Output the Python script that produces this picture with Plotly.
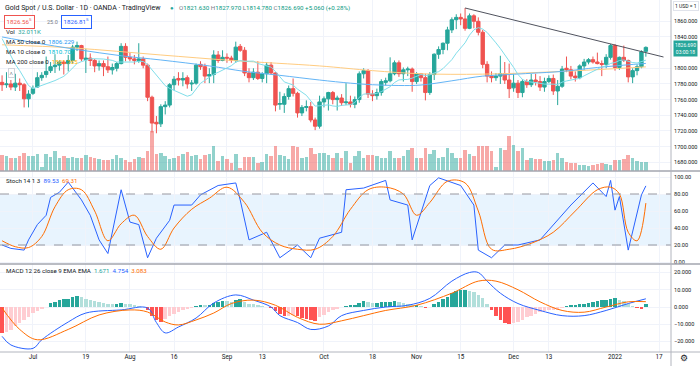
import plotly.graph_objects as go

# ---------------- data (bar index 0 = 1 Jul 2021, daily bars, weekends skipped) ----------------
bar_idx = list(range(-7, 140))

opens = [1782,1779,1780,1776,1781,1779,1761,1768,1776,1788,1792,1797,1802,1804,1808,1806,1810,1827,1829,1811,
         1813,1810,1803,1806,1802,1798,1800,1806,1828,1814,1812,1810,1812,1804,1763,1731,1729,1751,1753,1779,
         1787,1785,1788,1780,1781,1805,1802,1790,1792,1817,1810,1814,1813,1810,1828,1823,1794,1788,1795,1787,
         1793,1804,1794,1754,1754,1764,1774,1768,1743,1750,1751,1734,1726,1757,1761,1769,1760,1762,1756,1757,
         1754,1760,1793,1797,1767,1765,1769,1782,1784,1793,1807,1793,1798,1799,1783,1793,1788,1769,1792,1818,
         1824,1832,1849,1862,1865,1863,1851,1867,1860,1846,1805,1790,1788,1790,1793,1785,1775,1781,1769,1783,
         1779,1785,1783,1776,1783,1787,1771,1777,1800,1798,1790,1788,1803,1808,1811,1808,1806,1805,1814,1829,
         1801,1814,1810,1789,1797,1802,1821.63]
highs = [1791,1795,1785,1793,1787,1781,1772,1778,1795,1795,1815,1808,1818,1810,1810,1817,1830,1834,1830,1825,
         1819,1812,1810,1810,1815,1806,1808,1832,1832,1820,1817,1832,1815,1806,1765,1739,1754,1758,1781,1790,
         1795,1795,1791,1785,1806,1809,1806,1800,1823,1822,1823,1819,1816,1834,1831,1827,1800,1800,1809,1795,
         1808,1808,1795,1770,1768,1778,1787,1770,1753,1759,1757,1737,1765,1764,1770,1771,1765,1767,1781,1765,
         1764,1796,1800,1799,1772,1774,1786,1788,1814,1810,1810,1801,1802,1801,1795,1794,1793,1795,1819,1828,
         1833,1853,1865,1869,1870,1877,1870,1869,1865,1849,1809,1796,1794,1816,1808,1806,1793,1785,1786,1786,
         1793,1793,1790,1788,1791,1792,1785,1803,1815,1803,1796,1805,1812,1813,1815,1820,1810,1818,1831,1831,
         1815,1829,1811,1800,1805,1823,1827.97]
lows = [1771,1775,1772,1771,1771,1750,1750,1766,1775,1784,1788,1794,1794,1797,1792,1796,1806,1822,1809,1794,
        1803,1795,1797,1790,1794,1792,1796,1805,1809,1809,1805,1807,1800,1758,1718,1717,1725,1741,1750,1772,
        1778,1777,1774,1771,1779,1798,1781,1781,1781,1807,1809,1807,1807,1807,1821,1790,1782,1785,1785,1782,
        1781,1792,1745,1747,1743,1760,1764,1737,1739,1745,1731,1721,1723,1750,1746,1754,1746,1752,1753,1750,
        1749,1756,1787,1762,1758,1760,1765,1778,1782,1791,1789,1783,1790,1770,1780,1783,1759,1766,1785,1812,
        1818,1823,1845,1850,1855,1848,1850,1851,1842,1800,1782,1782,1784,1780,1780,1762,1770,1762,1763,1775,
        1776,1778,1771,1770,1781,1766,1753,1775,1795,1786,1783,1786,1798,1805,1806,1805,1790,1800,1811,1797,
        1798,1808,1782,1781,1791,1800,1814.78]
closes = [1779,1780,1776,1781,1779,1761,1767,1774,1788,1791,1796,1802,1804,1808,1806,1810,1827,1829,1812,1813,
          1810,1803,1806,1802,1798,1801,1806,1828,1814,1812,1810,1812,1804,1763,1730,1729,1751,1753,1779,1786,
          1785,1787,1780,1781,1804,1802,1790,1792,1817,1810,1814,1813,1810,1827,1823,1794,1788,1795,1787,1793,
          1804,1794,1753,1755,1764,1774,1768,1743,1750,1751,1734,1726,1757,1761,1769,1760,1762,1756,1757,1754,
          1760,1793,1797,1767,1765,1769,1783,1784,1793,1807,1793,1798,1799,1783,1793,1788,1769,1792,1818,1824,
          1832,1849,1862,1865,1863,1851,1867,1860,1846,1805,1790,1788,1790,1793,1785,1774,1781,1769,1783,1779,
          1785,1783,1776,1783,1787,1771,1777,1799,1798,1790,1788,1803,1808,1811,1808,1806,1805,1814,1829,1801,
          1814,1810,1789,1797,1802,1821,1826.69]
volume_k = [56,53,47,47,53,64,53,53,61,14,58,49,70,47,53,47,50,47,47,56,
            50,47,41,37,37,41,56,47,37,33,41,49,47,70,140,58,64,53,41,47,
            53,58,68,53,56,41,56,58,88,35,53,41,29,58,12,50,50,50,29,33,
            61,53,88,56,53,41,88,84,47,49,80,58,64,64,56,47,64,47,70,29,
            53,70,47,56,56,53,47,47,70,47,47,53,73,80,47,47,80,58,73,47,
            49,82,64,47,47,73,61,53,88,88,88,70,14,82,73,123,91,70,82,37,
            47,41,41,35,35,37,64,47,33,29,29,21,21,18,21,26,29,23,21,37,
            37,41,56,47,35,33,32]

ma10_vals = [1838,1827,1815,1805,1797,1787,1778,1774,1776,1777.6,1779.3,1781.5,1784.3,1787.0,1789.7,1794.6,1800.6,1806.1,1808.5,1810.7,
             1812.1,1812.2,1812.4,1811.8,1811.0,1810.1,1808.0,1807.9,1808.1,1808.0,1808.0,1808.9,1808.7,1804.8,1798.0,1790.8,1785.3,1777.8,1774.3,1771.7,
             1769.2,1766.7,1764.3,1766.1,1773.5,1780.8,1784.7,1788.6,1792.4,1794.8,1797.7,1800.3,1803.3,1807.9,1809.8,1809.0,1808.8,1809.1,1806.1,1804.4,
             1803.4,1801.5,1795.8,1788.5,1782.6,1780.6,1778.6,1773.4,1769.7,1765.5,1758.5,1751.7,1752.1,1752.8,1753.3,1751.9,1751.3,1752.6,1753.3,1753.6,
             1756.2,1762.9,1766.9,1767.5,1767.1,1768.0,1770.1,1772.9,1776.5,1781.8,1785.1,1785.6,1785.8,1787.4,1790.2,1792.1,1790.7,1791.5,1794.0,1795.7,
             1799.6,1804.7,1811.0,1819.2,1826.2,1832.5,1842.3,1849.1,1851.9,1850.0,1845.8,1839.7,1832.5,1825.3,1817.5,1809.8,1801.2,1792.1,1785.8,1783.2,
             1782.7,1782.2,1780.8,1779.8,1780.0,1779.7,1779.3,1782.3,1783.8,1784.9,1785.2,1787.2,1790.4,1793.2,1795.3,1798.8,1801.6,1803.1,1806.2,1807.3,
             1809.9,1810.6,1808.7,1807.3,1806.7,1808.2,1810.37]

ma50_idx = [-7, 0, 10, 20, 29, 40, 48, 56, 65, 72, 77, 83, 88, 95, 102, 108, 113, 120, 128, 134, 139]
ma50_vals = [1840, 1833, 1824, 1816, 1810.6, 1803, 1796, 1791, 1785, 1781, 1779, 1778, 1778.6, 1784, 1790, 1792, 1793.6, 1796, 1801, 1804, 1806.2]
ma200_idx = [-7, 9, 29, 45, 65, 77, 88, 102, 120, 139]
ma200_vals = [1830, 1826, 1817, 1810, 1803, 1797, 1793, 1792.5, 1796, 1801.8]

trend_idx = [98, 143]
trend_vals = [1877, 1814.4]

stoch_k_idx = [-7,-5,-2,-1,1,3,4,6,8,11,13,15,17,20,22,24,26,28,31,32,36,38,42,46,47,49,53,56,60,63,65,70,71,75,80,81,85,86,90,92,97,100,101,104,107,110,115,118,122,127,130,131,132,133,135,138,139]
stoch_k = [20,16,14,26,44,55,76,82,94,73,55,26,10,85,47,44,5,28,49,67,67,79,90,93,73,26,35,5,20,5,28,35,85,87,96,73,67,26,90,99,90,67,14,5,20,20,26,44,67,93,77,96,61,77,14,79,89.53]
stoch_d_idx = [-7,-4,-1,2,5,8,11,14,17,20,23,26,29,32,36,40,44,48,52,56,60,64,68,72,76,80,84,87,90,94,98,101,104,108,113,118,123,128,131,133,135,137,139]
stoch_d = [25,18,17,30,65,85,85,60,25,45,55,30,15,40,62,75,88,70,35,20,15,15,30,62,85,88,80,55,70,95,93,60,15,15,22,35,60,85,88,80,35,25,69.31]

macd_idx = [-7,-5,0,2,8,12,20,26,28,30,33,37,41,46,50,54,56,60,63,67,70,75,80,85,90,95,99,101,103,106,110,115,120,125,130,135,139]
macd_vals = [-17,-22,-24,-19,-8.7,-3.5,-1.7,-0.6,-9,-15,-11.6,-6.4,2.3,7,4,0,-5,-9,-13,-11,-5,-2,0,1,5,15,20,20,15,8,2,-2,-5,-5,-2,2,4.754]
signal_idx = [-7,-3,1,8,15,22,26,30,33,37,41,45,50,55,60,65,70,75,80,87,95,101,105,110,115,120,125,130,135,139]
signal_vals = [-0.6,-13,-19,-13,-4.6,-1.7,-2.9,-8.7,-10.4,-7.5,-3.5,2,4,1,-6,-10,-8,-5,-2,1,8,15,15,10,3,-2,-3,0,3,3.083]
macd_hist = [-15.3,-14.3,-13.3,-11,-9.5,-7.5,-5.6,-3.7,-2.3,-1.4,0.2,2.1,3.1,4,4.5,4.5,5.6,6.6,5.6,4.6,
             4,3.5,3,2.5,2,1.5,1.5,2.1,1.8,1.5,1.0,0.6,0.2,-1.5,-5.5,-7.5,-8.5,-7,-5,-4,
             -3,-2,-1.2,-0.5,0.8,1.2,1.0,1.2,2.5,3.0,3.5,3.3,3.0,4.0,4.5,3.0,2.0,1.5,1.0,0.5,
             0.2,-0.5,-2.5,-4,-5,-5,-4.5,-5.5,-6.5,-7,-7.5,-8,-6,-4.5,-3,-2,-1,0,0.5,1,
             1,2.5,3.5,3,2.5,2.5,3,3,3,3.5,3,2.5,2,1,1,0.5,-0.5,0.2,1.5,3,
             4.5,6,8,9,10,10,9,8.5,7,5,2,-2,-5,-7.5,-9,-10,-9.5,-8.5,-7.5,-6,
             -5,-4,-3,-2.5,-2,-1.5,-1.5,-0.5,0.5,1,1,1.5,2,2.5,3,3.5,4,4,4.5,5,
             4,3.5,2,0.5,-0.5,-1,1.671]

tick_idx = [0, 12, 22, 32, 44, 52, 66, 77, 87, 97, 109, 117, 132, 142]
tick_text = ["Jul", "19", "Aug", "16", "Sep", "13", "Oct", "18", "Nov", "15", "Dec", "13", "2022", "17"]
price_ticks = [1680, 1700, 1720, 1740, 1760, 1780, 1800, 1840, 1860]
stoch_ticks = [0, 20, 40, 60, 80, 100]
macd_ticks = [-20, -10, 0, 10, 20]

# ---------------- styling ----------------
UP, DN = "#26a69a", "#ef5350"
GRID = "#f0f3fa"
TXT = "#131722"
FONT = "Roboto"
W, H = 700, 366
ML, MR, MT, MB = 0, 29, 0, 14
PW, PH = W - ML - MR, H - MT - MB


def xp(px):
    return (px - ML) / PW


def yp(py):
    return 1 - (py - MT) / PH


vol_colors = ["rgba(38,166,154,0.5)" if c >= o else "rgba(239,83,80,0.5)" for o, c in zip(opens, closes)]
hist_colors = []
prev = None
for h in macd_hist:
    if h >= 0:
        hist_colors.append("#26a69a" if (prev is None or h >= prev) else "#b2dfdb")
    else:
        hist_colors.append("#ffcdd2" if (prev is not None and h >= prev) else "#ff5252")
    prev = h

fig = go.Figure()
fig.add_trace(go.Bar(x=bar_idx, y=volume_k, marker=dict(color=vol_colors, line=dict(width=0)),
                     xaxis="x", yaxis="y", width=0.8, hoverinfo="skip"))
fig.add_trace(go.Scatter(x=ma200_idx, y=ma200_vals, mode="lines", line=dict(color="#ffcc80", width=1, shape="spline"),
                         xaxis="x", yaxis="y2"))
fig.add_trace(go.Scatter(x=ma50_idx, y=ma50_vals, mode="lines", line=dict(color="#64b5f6", width=1, shape="spline"),
                         xaxis="x", yaxis="y2"))
fig.add_trace(go.Scatter(x=bar_idx, y=ma10_vals, mode="lines", line=dict(color="#80deea", width=1),
                         xaxis="x", yaxis="y2"))
fig.add_trace(go.Candlestick(x=bar_idx, open=opens, high=highs, low=lows, close=closes,
                             increasing=dict(line=dict(color=UP, width=1), fillcolor=UP),
                             decreasing=dict(line=dict(color=DN, width=1), fillcolor=DN),
                             whiskerwidth=0, xaxis="x", yaxis="y2"))
fig.add_trace(go.Scatter(x=trend_idx, y=trend_vals, mode="lines", line=dict(color="#50535e", width=1),
                         xaxis="x", yaxis="y2"))

fig.add_trace(go.Scatter(x=stoch_k_idx, y=stoch_k, mode="lines", line=dict(color="#2962ff", width=1),
                         xaxis="x2", yaxis="y3"))
fig.add_trace(go.Scatter(x=stoch_d_idx, y=stoch_d, mode="lines", line=dict(color="#ff6d00", width=1, shape="spline"),
                         xaxis="x2", yaxis="y3"))

fig.add_trace(go.Bar(x=bar_idx, y=macd_hist, marker=dict(color=hist_colors, line=dict(width=0)), width=0.8,
                     xaxis="x3", yaxis="y4"))
fig.add_trace(go.Scatter(x=macd_idx, y=macd_vals, mode="lines", line=dict(color="#2962ff", width=1, shape="spline"),
                         xaxis="x3", yaxis="y4"))
fig.add_trace(go.Scatter(x=signal_idx, y=signal_vals, mode="lines", line=dict(color="#ff6d00", width=1, shape="spline"),
                         xaxis="x3", yaxis="y4"))

xr = [-7.47, 144.7]
xcommon = dict(range=xr, tickvals=tick_idx, ticktext=tick_text, showgrid=True, gridcolor=GRID, gridwidth=1,
               zeroline=False, showline=False, ticks="", fixedrange=True)
ycommon = dict(side="right", showgrid=True, gridcolor=GRID, zeroline=False, showline=False, ticks="",
               tickfont=dict(size=5.6, color=TXT, family=FONT), ticklabelstandoff=2, fixedrange=True)

p_top = 1860 + 21.3 / 0.783
p_bot = 1860 - (171 - 21.3) / 0.783
s_top = (262 - 171) / 0.85
s_bot = (262 - 264) / 0.85
m_top = (307 - 264) / 1.725
m_bot = (307 - 352) / 1.725

fig.update_layout(
    width=W, height=H, margin=dict(l=ML, r=MR, t=MT, b=MB),
    paper_bgcolor="white", plot_bgcolor="white", showlegend=False, bargap=0,
    boxgap=0.15, boxgroupgap=0.1,
    font=dict(family=FONT, size=7, color=TXT),
    xaxis=dict(domain=[0, 1], anchor="y", showticklabels=False, rangeslider=dict(visible=False), **xcommon),
    xaxis2=dict(domain=[0, 1], anchor="y3", matches="x", showticklabels=False, **xcommon),
    xaxis3=dict(domain=[0, 1], anchor="y4", matches="x", showticklabels=True,
                tickfont=dict(size=6.3, color=TXT, family=FONT), **xcommon),
    yaxis=dict(domain=[yp(171), 1], range=[0, 600], visible=False, fixedrange=True),
    yaxis2=dict(overlaying="y", anchor="x", range=[p_bot, p_top], tickvals=price_ticks, tickformat=".3f", **ycommon),
    yaxis3=dict(domain=[yp(264), yp(171)], anchor="x2", range=[s_bot, s_top], tickvals=stoch_ticks,
                tickformat=".2f", **ycommon),
    yaxis4=dict(domain=[0, yp(264)], anchor="x3", range=[m_bot, m_top], tickvals=macd_ticks,
                tickformat=".3f", **ycommon),
)

shapes = [
    dict(type="rect", xref="paper", yref="y3", x0=0, x1=1, y0=20, y1=80, fillcolor="rgba(33,150,243,0.1)",
         line=dict(width=0), layer="below"),
    dict(type="line", xref="paper", yref="y3", x0=0, x1=1, y0=80, y1=80, line=dict(color="#9598a1", width=1, dash="dash")),
    dict(type="line", xref="paper", yref="y3", x0=0, x1=1, y0=20, y1=20, line=dict(color="#9598a1", width=1, dash="dash")),
    dict(type="line", xref="paper", yref="paper", x0=0, x1=W / PW, y0=yp(171), y1=yp(171), line=dict(color="#a3a6af", width=1.5)),
    dict(type="line", xref="paper", yref="paper", x0=0, x1=W / PW, y0=yp(264), y1=yp(264), line=dict(color="#a3a6af", width=1.5)),
    dict(type="line", xref="paper", yref="paper", x0=0, x1=W / PW, y0=yp(352), y1=yp(352), line=dict(color="#b2b5be", width=1)),
    dict(type="line", xref="paper", yref="paper", x0=xp(671), x1=xp(671), y0=yp(366), y1=1, line=dict(color="#b2b5be", width=1)),
]
fig.update_layout(shapes=shapes)

GRAY = "#787b86"
GREEN = "#089981"


def ann(px, py, text, size=6.8, color=TXT, xanchor="left", **kw):
    fig.add_annotation(x=xp(px), y=yp(py), xref="paper", yref="paper", text=text, showarrow=False,
                       xanchor=xanchor, yanchor="middle", font=dict(size=size, color=color, family=FONT), **kw)


ann(3, 8, "Gold Spot / U.S. Dollar · 1D · OANDA · TradingView", size=7)
ann(168, 8, "●", size=6, color="#26a69a")
ann(177, 8, "<span style='color:%s'>O</span>1821.630 <span style='color:%s'>H</span>1827.970 "
            "<span style='color:%s'>L</span>1814.780 <span style='color:%s'>C</span>1826.690 +5.060 (+0.28%%)"
    % (GRAY, GRAY, GRAY, GRAY), size=6.2, color=GREEN)
ann(4, 22, "1826.56<sup>5</sup>", size=6.2, color=DN, bordercolor=DN, borderwidth=1, borderpad=1.5, bgcolor="white")
ann(45, 22, "25.0", size=5.5, color=GRAY)
ann(61, 22, "1826.81<sup>5</sup>", size=6.2, color="#2962ff", bordercolor="#2962ff", borderwidth=1, borderpad=1.5, bgcolor="white")
ann(4, 32, "Vol  <span style='color:#26a69a'>32.011K</span>", size=6.2, color=TXT)
ann(4, 42, "MA 50 close 0  <span style='color:#2196f3'>1806.229</span>", size=6.2)
ann(4, 52, "MA 10 close 0  <span style='color:#00bcd4'>1810.707</span>", size=6.2)
ann(4, 62, "MA 200 close 0  <span style='color:#ffb300'>1801.765</span>", size=6.2)
ann(8, 73, "˄", size=6, color=TXT, bordercolor="#d1d4dc", borderwidth=1, borderpad=0.5, bgcolor="white")
ann(4, 181, "Stoch 14 1 3  <span style='color:#2962ff'>89.53</span>  <span style='color:#ff6d00'>69.31</span>", size=6.2)
ann(4, 271, "MACD 12 26 close 9 EMA EMA  <span style='color:#26a69a'>1.671</span>  "
            "<span style='color:#2962ff'>4.754</span>  <span style='color:#ff6d00'>3.083</span>", size=6.2)
ann(686, 6, "1 USD = 1", size=5, color=TXT, xanchor="center", bordercolor="#e0e3eb", borderwidth=1, borderpad=1)
ann(686, 48, "1826.690<br>03:00:18", size=5, color="white", xanchor="center", bgcolor="#26a69a", borderpad=1)
ann(684, 358, "⚙", size=9, color=TXT, xanchor="center")

fig.write_html("out.html", config={"displayModeBar": False, "staticPlot": True},
               post_script="document.body.style.margin='0';document.body.style.overflow='hidden';")
